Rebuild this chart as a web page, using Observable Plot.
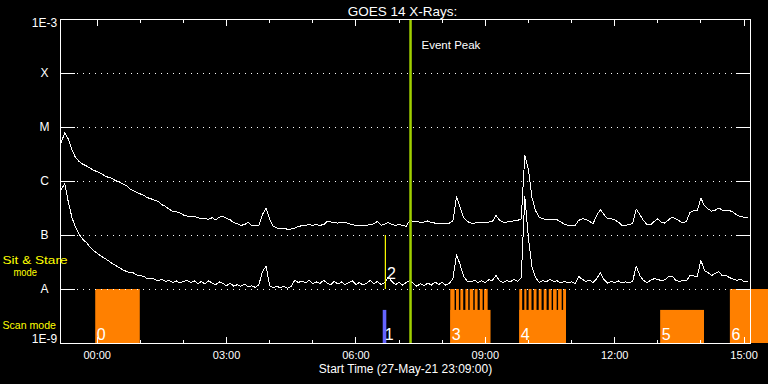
<!DOCTYPE html>
<html><head><meta charset="utf-8">
<script src="https://cdn.jsdelivr.net/npm/d3@7"></script>
<script src="https://cdn.jsdelivr.net/npm/@observablehq/plot@0.6"></script>
<style>html,body{margin:0;padding:0;background:#000;}#chart{width:768px;height:384px;}</style>
</head><body><div id="chart"></div>
<script>
// ---------- data ----------
const title = "GOES 14 X-Rays:";
const xTitle = "Start Time (27-May-21 23:09:00)";
const windowStart = "23:09", windowEnd = "15:09";
const sampleStart = "23:10", sampleStepMinutes = 5;

// log10 of flux (W/m^2), long channel (upper curve)
const longLog = [
-5.28,-5.09,-5.22,-5.41,-5.56,-5.63,-5.68,-5.71,-5.75,-5.79,
-5.82,-5.85,-5.89,-5.92,-5.94,-5.98,-6.01,-6.04,-6.07,-6.13,
-6.17,-6.20,-6.23,-6.26,-6.30,-6.32,-6.35,-6.37,-6.43,-6.46,
-6.51,-6.55,-6.56,-6.58,-6.62,-6.64,-6.65,-6.64,-6.67,-6.69,
-6.69,-6.70,-6.67,-6.71,-6.66,-6.65,-6.68,-6.71,-6.76,-6.78,
-6.81,-6.80,-6.75,-6.82,-6.81,-6.81,-6.61,-6.50,-6.70,-6.83,
-6.86,-6.87,-6.86,-6.89,-6.88,-6.86,-6.83,-6.82,-6.81,-6.80,
-6.81,-6.80,-6.81,-6.80,-6.74,-6.75,-6.76,-6.77,-6.76,-6.76,
-6.78,-6.80,-6.81,-6.81,-6.81,-6.81,-6.80,-6.78,-6.74,-6.81,
-6.79,-6.76,-6.80,-6.81,-6.80,-6.81,-6.83,-6.72,-6.74,-6.74,
-6.76,-6.75,-6.73,-6.76,-6.77,-6.77,-6.77,-6.77,-6.77,-6.73,
-6.28,-6.48,-6.67,-6.74,-6.77,-6.77,-6.76,-6.75,-6.75,-6.75,
-6.74,-6.63,-6.72,-6.75,-6.75,-6.74,-6.73,-6.72,-6.69,-5.52,
-5.78,-6.30,-6.54,-6.66,-6.69,-6.70,-6.70,-6.70,-6.71,-6.75,
-6.79,-6.81,-6.81,-6.81,-6.72,-6.69,-6.70,-6.74,-6.78,-6.63,
-6.52,-6.61,-6.69,-6.69,-6.71,-6.75,-6.81,-6.81,-6.80,-6.78,
-6.51,-6.61,-6.72,-6.80,-6.80,-6.74,-6.69,-6.76,-6.77,-6.71,
-6.66,-6.69,-6.73,-6.77,-6.73,-6.57,-6.54,-6.54,-6.31,-6.45,
-6.51,-6.55,-6.53,-6.49,-6.53,-6.54,-6.54,-6.57,-6.62,-6.65,
-6.66,-6.66
];
// log10 of flux (W/m^2), short channel (lower curve)
const shortLog = [
-6.15,-6.04,-6.39,-6.67,-6.85,-6.98,-7.07,-7.13,-7.21,-7.28,
-7.33,-7.38,-7.42,-7.46,-7.51,-7.55,-7.59,-7.63,-7.66,-7.69,
-7.69,-7.73,-7.74,-7.76,-7.80,-7.79,-7.81,-7.84,-7.81,-7.85,
-7.83,-7.87,-7.84,-7.88,-7.85,-7.83,-7.87,-7.84,-7.89,-7.85,
-7.90,-7.84,-7.88,-7.91,-7.86,-7.89,-7.93,-7.88,-7.94,-7.91,
-7.94,-7.90,-7.95,-7.93,-7.96,-7.91,-7.67,-7.57,-7.93,-7.97,
-7.94,-7.97,-7.94,-7.98,-7.94,-7.83,-7.87,-7.84,-7.88,-7.83,
-7.89,-7.86,-7.89,-7.83,-7.88,-7.91,-7.85,-7.90,-7.86,-7.91,
-7.87,-7.84,-7.91,-7.87,-7.92,-7.88,-7.83,-7.89,-7.85,-7.91,
-7.87,-7.77,-7.85,-7.91,-7.87,-7.92,-7.87,-7.83,-7.89,-7.94,
-7.89,-7.93,-7.88,-7.92,-7.86,-7.91,-7.87,-7.92,-7.89,-7.80,
-7.35,-7.54,-7.76,-7.85,-7.86,-7.83,-7.87,-7.84,-7.87,-7.82,
-7.83,-7.74,-7.84,-7.87,-7.83,-7.86,-7.81,-7.85,-7.78,-6.28,
-7.04,-7.59,-7.78,-7.87,-7.83,-7.86,-7.81,-7.85,-7.84,-7.88,
-7.85,-7.88,-7.86,-7.89,-7.76,-7.81,-7.85,-7.83,-7.87,-7.80,
-7.69,-7.81,-7.88,-7.85,-7.87,-7.84,-7.88,-7.86,-7.88,-7.85,
-7.57,-7.74,-7.83,-7.87,-7.83,-7.80,-7.81,-7.84,-7.82,-7.76,
-7.75,-7.83,-7.85,-7.83,-7.84,-7.74,-7.75,-7.76,-7.46,-7.65,
-7.69,-7.74,-7.70,-7.67,-7.75,-7.74,-7.78,-7.81,-7.83,-7.81,
-7.85,-7.86
];

const classLabels = ["1E-9","A","B","C","M","X","1E-3"];
const classFlux   = [1e-9, 1e-8, 1e-7, 1e-6, 1e-5, 1e-4, 1e-3];
const timeTickLabels = ["00:00","03:00","06:00","09:00","12:00","15:00"];

const scanLabels = ["0","3","4","5","6"];
const scanStarts = ["23:58","08:12","09:48","13:04","14:41"];
const scanEnds   = ["01:00","09:08","10:53","14:05","15:35"];
const scanFull   = [true,false,false,false,true];

const burstStarts = ["08:12","08:20","08:26","08:33","08:39","08:46","08:53","08:59",
                     "09:48","09:55","10:01","10:08","10:15","10:22","10:29","10:35","10:42","10:49"];
const burstEnds   = ["08:18","08:24","08:30","08:37","08:44","08:50","08:57","09:04",
                     "09:52","09:58","10:05","10:12","10:19","10:26","10:33","10:40","10:47","10:53"];

const stareLabel = "1", stareStart = "06:38", stareEnd = "06:43";
const eventLabel = "2", eventTime = "06:41";
const peakLabel = "Event Peak", peakTime = "07:16";
const modeLabels = ["Sit & Stare", "mode", "Scan mode"];

const floorLevel = 1e-9, fullLevel = 1e-8, scanLevel = 4.1e-9;
const eventLow = 1e-8, eventHigh = 1e-7;

// ---------- helpers ----------
function t(hhmm) {
  const [h, m] = hhmm.split(":").map(Number);
  return new Date(Date.UTC(2021, 4, h >= 23 ? 27 : 28, h, m));
}
const t0 = t(sampleStart).getTime();
const curveLong = longLog.map((v, i) => ({time: new Date(t0 + i * sampleStepMinutes * 60000), flux: 10 ** v}));
const curveShort = shortLog.map((v, i) => ({time: new Date(t0 + i * sampleStepMinutes * 60000), flux: 10 ** v}));
const scans = scanLabels.map((l, i) => ({label: l, start: t(scanStarts[i]), end: t(scanEnds[i]), top: scanFull[i] ? fullLevel : scanLevel}));
const bursts = burstStarts.map((s, i) => ({start: t(s), end: t(burstEnds[i])}));
const classes = classLabels.map((l, i) => ({label: l, flux: classFlux[i]}));
const hours = d3.utcHours(t(windowStart), t(windowEnd));
const majorHours = hours.filter(d => d.getUTCHours() % 3 === 0);
const minorHours = hours.filter(d => d.getUTCHours() % 3 !== 0);
const labelTicks = timeTickLabels.map(t);

const ORANGE = "#ff8000", WHITE = "#ffffff", YELLOW = "#ffff00", GREEN = "#a0d000", BLUE = "#6464ff";
const innerH = 324, innerW = 690;
const font = "Liberation Sans";

const chart = Plot.plot({
  width: 768, height: 384,
  marginLeft: 60, marginRight: 18, marginTop: 19, marginBottom: 41,
  style: {background: "#000", color: WHITE, fontFamily: font},
  x: {type: "utc", domain: [t(windowStart), t(windowEnd)], axis: null},
  y: {type: "log", domain: [1e-9, 1e-3], axis: null},
  marks: [
    Plot.rect(scans, {x1: "start", x2: "end", y1: floorLevel, y2: "top", fill: ORANGE}),
    Plot.rect(bursts, {x1: "start", x2: "end", y1: floorLevel, y2: fullLevel, fill: ORANGE}),
    Plot.rect([{start: t(stareStart), end: t(stareEnd)}], {x1: "start", x2: "end", y1: floorLevel, y2: scanLevel, fill: BLUE}),
    Plot.ruleY(classFlux.slice(1, -1), {stroke: WHITE, strokeDasharray: "1,5", strokeDashoffset: -2, insetLeft: 15, insetRight: 15, shapeRendering: "crispEdges"}),
    Plot.ruleY(classFlux.slice(1, -1), {stroke: WHITE, insetRight: innerW - 15, shapeRendering: "crispEdges"}),
    Plot.ruleY(classFlux.slice(1, -1), {stroke: WHITE, insetLeft: innerW - 14, shapeRendering: "crispEdges"}),
    Plot.ruleX(minorHours, {stroke: WHITE, insetTop: innerH - 3, shapeRendering: "crispEdges"}),
    Plot.ruleX(majorHours, {stroke: WHITE, insetTop: innerH - 6, shapeRendering: "crispEdges"}),
    Plot.ruleX(minorHours, {stroke: WHITE, insetBottom: innerH - 4, shapeRendering: "crispEdges"}),
    Plot.ruleX(majorHours, {stroke: WHITE, insetBottom: innerH - 7, shapeRendering: "crispEdges"}),
    Plot.line(curveLong, {x: "time", y: "flux", stroke: WHITE, strokeWidth: 1, shapeRendering: "crispEdges"}),
    Plot.line(curveShort, {x: "time", y: "flux", stroke: WHITE, strokeWidth: 1, shapeRendering: "crispEdges"}),
    Plot.ruleX([{time: t(eventTime)}], {x: "time", y1: eventLow, y2: eventHigh, stroke: YELLOW, strokeWidth: 1.2}),
    Plot.ruleX([{time: t(peakTime)}], {x: "time", stroke: GREEN, strokeWidth: 2.5}),
    Plot.text([{time: t(peakTime), label: peakLabel}], {x: "time", text: "label", frameAnchor: "top", dx: 11, dy: 29, textAnchor: "start", lineAnchor: "bottom", fill: WHITE, fontSize: 11.5}),
    Plot.text(scans, {x: "start", text: "label", frameAnchor: "bottom", dx: 1, dy: -4, textAnchor: "start", lineAnchor: "bottom", fill: WHITE, fontSize: 16}),
    Plot.text([{time: t(stareStart), label: stareLabel}], {x: "time", text: "label", frameAnchor: "bottom", dx: 1.5, dy: -4, textAnchor: "start", lineAnchor: "bottom", fill: WHITE, fontSize: 16}),
    Plot.text([{time: t(eventTime), flux: eventLow, label: eventLabel}], {x: "time", y: "flux", text: "label", dx: 1.5, dy: -10.5, textAnchor: "start", lineAnchor: "bottom", fill: WHITE, fontSize: 16}),
    Plot.frame({stroke: WHITE, shapeRendering: "crispEdges"}),
    Plot.text(classes.slice(1, -1), {y: "flux", text: "label", frameAnchor: "left", dx: -16, textAnchor: "middle", fill: WHITE, fontSize: 12}),
    Plot.text(classes.slice(-1), {y: "flux", text: "label", frameAnchor: "left", dx: -16, dy: 4, textAnchor: "middle", fill: WHITE, fontSize: 12}),
    Plot.text(classes.slice(0, 1), {y: "flux", text: "label", frameAnchor: "left", dx: -16, dy: -4, textAnchor: "middle", fill: WHITE, fontSize: 12}),
    Plot.text([modeLabels[0]], {text: d => d, frameAnchor: "top-left", dx: -58, dy: 244, textAnchor: "start", lineAnchor: "bottom", fill: YELLOW, fontSize: 11.5, className: "mode-sit"}),
    Plot.text([modeLabels[1]], {text: d => d, frameAnchor: "top-left", dx: -47, dy: 256, textAnchor: "start", lineAnchor: "bottom", fill: YELLOW, fontSize: 11.5, className: "mode-mode"}),
    Plot.text([modeLabels[2]], {text: d => d, frameAnchor: "top-left", dx: -58, dy: 309, textAnchor: "start", lineAnchor: "bottom", fill: YELLOW, fontSize: 11.5, className: "mode-scan"}),
    Plot.axisX({ticks: labelTicks, tickFormat: d3.utcFormat("%H:%M"), tickSize: 0, tickPadding: 8, fontSize: 11, label: null, color: WHITE}),
    Plot.text([xTitle], {text: d => d, frameAnchor: "bottom", dy: 29, lineAnchor: "bottom", fill: WHITE, fontSize: 12}),
    Plot.text([title], {text: d => d, frameAnchor: "top", dx: -3, dy: -4, lineAnchor: "bottom", fill: WHITE, fontSize: 13.5})
  ]
});
// match the wide/narrow proportions of the original vector font
const fits = [["mode-sit", 65], ["mode-mode", 23.5], ["mode-scan", 53.5]];
for (const [cls, len] of fits) {
  d3.select(chart).selectAll(`g.${cls} text`).attr("textLength", len).attr("lengthAdjust", "spacingAndGlyphs");
}
document.getElementById("chart").appendChild(chart);
</script>
</body></html>
